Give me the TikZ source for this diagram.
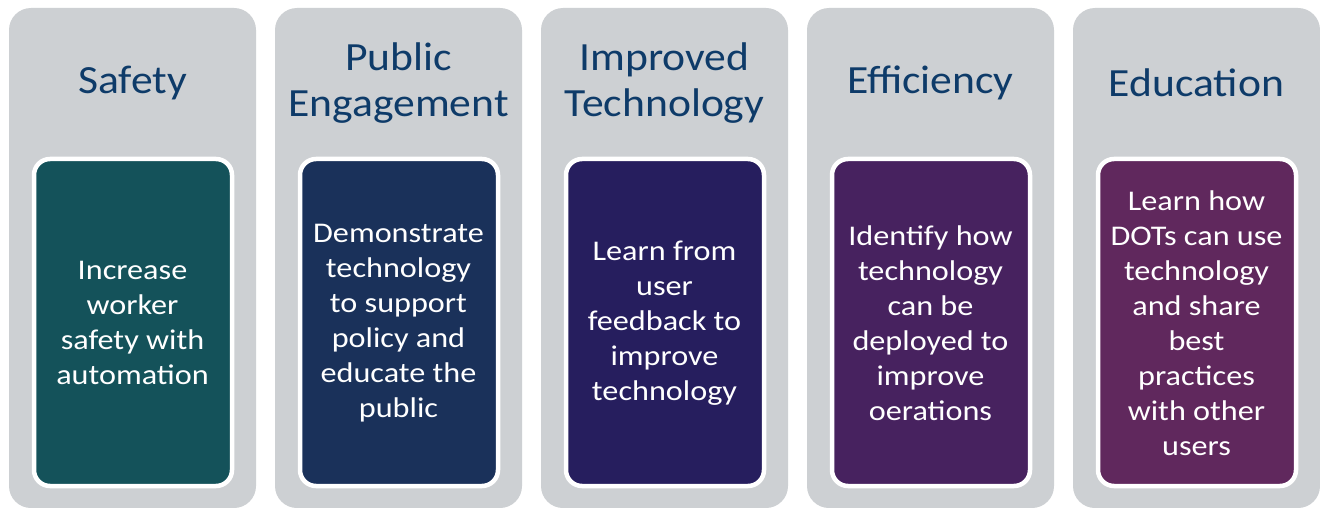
\documentclass[tikz,border=0pt]{standalone}
\usepackage{fontspec}
\setmainfont{Carlito}
\newfontfamily\titlefont[FakeStretch=1.09]{Carlito}
\newfontfamily\bodyfont[FakeStretch=1.13]{Carlito}
\definecolor{colgrey}{HTML}{CDD0D3}
\definecolor{titleblue}{HTML}{0E3B69}
\definecolor{cA}{HTML}{14525A}
\definecolor{cB}{HTML}{1A315A}
\definecolor{cC}{HTML}{261E5E}
\definecolor{cD}{HTML}{47225F}
\definecolor{cE}{HTML}{60285D}
\tikzset{
  colbox/.style={fill=colgrey, rounded corners=22pt},
  titletext/.style={text=titleblue, align=center, font=\titlefont\fontsize{40}{46}\selectfont},
  innerbox/.style={draw=white, line width=4.5pt, rounded corners=16pt},
  bodytext/.style={text=white, align=center, font=\bodyfont\fontsize{28.5}{35}\selectfont}
}
\begin{document}
\begin{tikzpicture}[x=1pt,y=-1pt]
\useasboundingbox (0,0) rectangle (1320,508);
\fill[white] (0,0) rectangle (1320,508);
\foreach \i/\c in {0/cA,1/cB,2/cC,3/cD,4/cE}{
  \pgfmathsetmacro{\xl}{9+266*\i}
  \fill[colbox] (\xl,8) rectangle ++(247,500);
  \draw[innerbox, fill=\c] (\xl+25,159) rectangle ++(198,327);
}
\node[titletext] (t1) at (132.5,83) {Safety};
\node[titletext] (t2) at (398.5,83.5) {Public\\Engagement};
\node[titletext] (t3) at (664.5,83.5) {Improved\\Technology};
\node[titletext] (t4) at (930.5,83) {Efficiency};
\node[titletext] (t5) at (1196.5,83) {Education};
\node[bodytext] (b1) at (132.5,323) {Increase\\worker\\safety with\\automation};
\node[bodytext] (b2) at (398.5,323) {Demonstrate\\technology\\to support\\policy and\\educate the\\public};
\node[bodytext] (b3) at (664.5,323) {Learn from\\user\\feedback to\\improve\\technology};
\node[bodytext] (b4) at (930.5,323) {Identify how\\technology\\can be\\deployed to\\improve\\oerations};
\node[bodytext] (b5) at (1196.5,323) {Learn how\\DOTs can use\\technology\\and share\\best\\practices\\with other\\users};
\end{tikzpicture}
\end{document}
